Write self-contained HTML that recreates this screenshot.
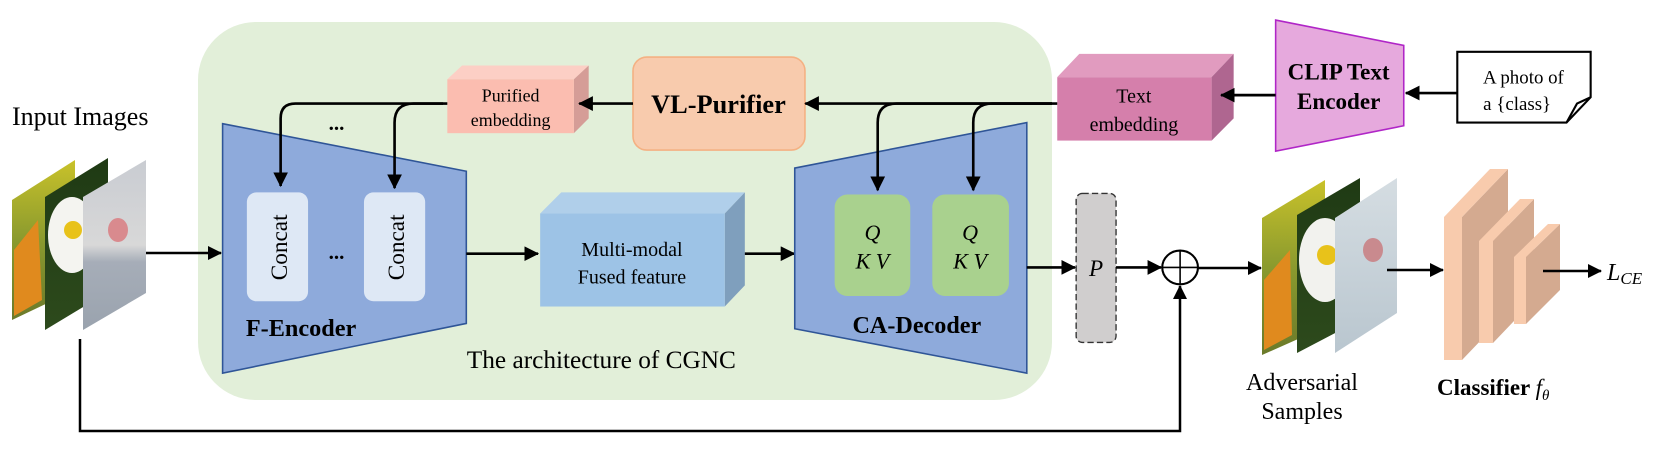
<!DOCTYPE html>
<html><head><meta charset="utf-8"><style>
html,body{margin:0;padding:0;background:#fff;width:1661px;height:453px;overflow:hidden}
svg{display:block}
text{font-family:"Liberation Serif",serif;fill:#000}
</style></head><body>
<svg width="1661" height="453" viewBox="0 0 1661 453" xmlns="http://www.w3.org/2000/svg">
<defs>
<marker id="ab" markerWidth="14" markerHeight="14" refX="13" refY="7" orient="auto" markerUnits="userSpaceOnUse">
<path d="M0,0 L14,7 L0,14 z" fill="#000"/></marker>
<linearGradient id="g1" x1="0" y1="0" x2="0" y2="1"><stop offset="0" stop-color="#c9c22a"/><stop offset="0.5" stop-color="#8a9a2e"/><stop offset="1" stop-color="#6b7a2a"/></linearGradient>
<linearGradient id="g2" x1="0" y1="0" x2="0" y2="1"><stop offset="0" stop-color="#1f3a14"/><stop offset="1" stop-color="#2d4a1c"/></linearGradient>
<linearGradient id="g3" x1="0" y1="0" x2="0" y2="1"><stop offset="0" stop-color="#c9ccd2"/><stop offset="0.5" stop-color="#d8d8d8"/><stop offset="0.6" stop-color="#a6adb8"/><stop offset="1" stop-color="#9aa3ae"/></linearGradient>
<linearGradient id="g4" x1="0" y1="0" x2="0" y2="1"><stop offset="0" stop-color="#d5dde2"/><stop offset="1" stop-color="#b9c6cf"/></linearGradient>
</defs>

<rect x="198" y="22" width="854" height="378" rx="58" fill="#e2efd9"/>

<text x="12" y="125" font-size="26">Input Images</text>
<g>
<polygon points="12,200 75,160 75,290 12,320" fill="url(#g1)"/>
<polygon points="14,250 38,220 42,300 14,316" fill="#e08a1e"/>
<polygon points="45,197 108,158 108,292 45,330" fill="url(#g2)"/>
<ellipse cx="72" cy="235" rx="24" ry="38" fill="#f4f4f0"/>
<circle cx="73" cy="230" r="9" fill="#e8c21a"/>
<polygon points="83,197 146,160 146,293 83,330" fill="url(#g3)"/>
<ellipse cx="118" cy="230" rx="10" ry="12" fill="#d98a8e"/>
</g>
<line x1="146" y1="253" x2="221" y2="253" stroke="#000" stroke-width="2.5" marker-end="url(#ab)"/>
<path d="M80,339 L80,431 L1180,431 L1180,286" fill="none" stroke="#000" stroke-width="2.5" marker-end="url(#ab)"/>

<!-- LEFT GROUP -->
<g transform="scale(1.055,1.057)">
<polygon points="211,117 442,162 442,306 211,353" fill="#8eaadb" stroke="#2f5597" stroke-width="1.5"/>
<rect x="234" y="182" width="58" height="103" rx="9" fill="#dee8f5"/>
<rect x="345" y="182" width="58" height="103" rx="9" fill="#dee8f5"/>
<text transform="translate(272,234) rotate(-90)" font-size="22" text-anchor="middle">Concat</text>
<text transform="translate(383,234) rotate(-90)" font-size="22" text-anchor="middle">Concat</text>
<text x="319" y="245" font-size="20" text-anchor="middle" font-weight="bold">...</text>
<text x="319" y="123" font-size="20" text-anchor="middle" font-weight="bold">...</text>
<text x="233" y="318" font-size="23" font-weight="bold">F-Encoder</text>

<polygon points="424,75 438,62 558,62 544,75" fill="#fccfc5"/>
<polygon points="544,75 558,62 558,112 544,126" fill="#d59d97"/>
<rect x="424" y="75" width="120" height="51" fill="#fbbdb0"/>
<text x="484" y="96" font-size="17" text-anchor="middle">Purified</text>
<text x="484" y="119" font-size="17" text-anchor="middle">embedding</text>

<rect x="600" y="54" width="163" height="88" rx="13" fill="#f8cbad" stroke="#f4b183" stroke-width="1.5"/>
<text x="681" y="107" font-size="25" font-weight="bold" text-anchor="middle">VL-Purifier</text>
<line x1="600" y1="98" x2="549" y2="98" stroke="#000" stroke-width="2.5" marker-end="url(#ab)"/>

<path d="M424,98 L280,98 Q266,98 266,112 L266,176" fill="none" stroke="#000" stroke-width="2.5" marker-end="url(#ab)"/>
<path d="M420,98 L392,98 Q374,98 374,116 L374,178" fill="none" stroke="#000" stroke-width="2.5" marker-end="url(#ab)"/>

<polygon points="512,202 532,182 706,182 687,202" fill="#b0cfea"/>
<polygon points="687,202 706,182 706,270 687,290" fill="#7f9fbd"/>
<rect x="512" y="202" width="175" height="88" fill="#9dc3e6"/>
<text x="599" y="242" font-size="19" text-anchor="middle">Multi-modal</text>
<text x="599" y="268" font-size="19" text-anchor="middle">Fused feature</text>
<line x1="442" y1="240" x2="510" y2="240" stroke="#000" stroke-width="2.5" marker-end="url(#ab)"/>
<line x1="706" y1="240" x2="753" y2="240" stroke="#000" stroke-width="2.5" marker-end="url(#ab)"/>

<text x="570" y="348" font-size="24" text-anchor="middle">The architecture of CGNC</text>
</g>

<!-- RIGHT GROUP -->
<g transform="translate(800,0) scale(1.05,1.057) translate(-800,0)">
<polygon points="795,159 1016,116 1016,353 795,311" fill="#8eaadb" stroke="#2f5597" stroke-width="1.5"/>
<rect x="833" y="184" width="72" height="96" rx="12" fill="#a9d18e"/>
<rect x="926" y="184" width="73" height="96" rx="12" fill="#a9d18e"/>
<text x="869" y="227" font-size="21" font-style="italic" text-anchor="middle">Q</text>
<text x="869" y="254" font-size="21" font-style="italic" text-anchor="middle">K V</text>
<text x="962" y="227" font-size="21" font-style="italic" text-anchor="middle">Q</text>
<text x="962" y="254" font-size="21" font-style="italic" text-anchor="middle">K V</text>
<text x="850" y="315" font-size="23" font-weight="bold">CA-Decoder</text>

<polygon points="1045,73 1066,51 1213,51 1192,73" fill="#e19bbf"/>
<polygon points="1192,73 1213,51 1213,112 1192,133" fill="#af6690"/>
<rect x="1045" y="73" width="147" height="60" fill="#d57fab"/>
<text x="1118" y="97" font-size="19" text-anchor="middle">Text</text>
<text x="1118" y="124" font-size="19" text-anchor="middle">embedding</text>

<line x1="1045" y1="98" x2="805" y2="98" stroke="#000" stroke-width="2.5" marker-end="url(#ab)"/>
<path d="M1040,98 L892,98 Q874,98 874,116 L874,180" fill="none" stroke="#000" stroke-width="2.5" marker-end="url(#ab)"/>
<path d="M1040,98 L983,98 Q965,98 965,116 L965,180" fill="none" stroke="#000" stroke-width="2.5" marker-end="url(#ab)"/>

<polygon points="1253,19 1375,43 1375,119 1253,143" fill="#e6a9dd" stroke="#b026c7" stroke-width="1.5"/>
<text x="1313" y="75" font-size="22" font-weight="bold" text-anchor="middle">CLIP Text</text>
<text x="1313" y="103" font-size="22" font-weight="bold" text-anchor="middle">Encoder</text>
<line x1="1253" y1="90" x2="1201" y2="90" stroke="#000" stroke-width="2.5" marker-end="url(#ab)"/>

<path d="M1426,49 L1553,49 L1553,92 L1530,116 L1426,116 Z" fill="#fff" stroke="#000" stroke-width="2"/>
<path d="M1553,92 L1540,98 L1530,116" fill="none" stroke="#000" stroke-width="2"/>
<text x="1489" y="79" font-size="18" text-anchor="middle">A photo of</text>
<text x="1483" y="104" font-size="18" text-anchor="middle">a {class}</text>
<line x1="1426" y1="88" x2="1377" y2="88" stroke="#000" stroke-width="2.5" marker-end="url(#ab)"/>

<line x1="1016" y1="253" x2="1062" y2="253" stroke="#000" stroke-width="2.5" marker-end="url(#ab)"/>
<rect x="1063" y="183" width="38" height="141" rx="6" fill="#d0cece" stroke="#333" stroke-width="1.3" stroke-dasharray="6,3"/>
<text x="1082" y="261" font-size="22" font-style="italic" text-anchor="middle">P</text>
<line x1="1101" y1="253" x2="1144" y2="253" stroke="#000" stroke-width="2.5" marker-end="url(#ab)"/>
<ellipse cx="1162" cy="253" rx="17" ry="16" fill="#fff" stroke="#000" stroke-width="2"/>
<line x1="1145" y1="253" x2="1179" y2="253" stroke="#000" stroke-width="1.5"/>
<line x1="1162" y1="237" x2="1162" y2="269" stroke="#000" stroke-width="1.5"/>
</g>

<!-- actual coords: circle -> adversarial -->
<line x1="1198" y1="268" x2="1261" y2="268" stroke="#000" stroke-width="2.5" marker-end="url(#ab)"/>

<!-- adversarial images -->
<g>
<polygon points="1262,218 1325,180 1325,327 1262,355" fill="url(#g1)"/>
<polygon points="1264,280 1290,250 1292,335 1264,350" fill="#e08a1e"/>
<polygon points="1297,215 1360,178 1360,320 1297,353" fill="url(#g2)"/>
<ellipse cx="1325" cy="260" rx="26" ry="42" fill="#f2f2ee"/>
<circle cx="1327" cy="255" r="10" fill="#e8c21a"/>
<polygon points="1335,218 1397,178 1397,313 1335,353" fill="url(#g4)"/>
<ellipse cx="1373" cy="250" rx="10" ry="12" fill="#c98a8e"/>
</g>
<text x="1302" y="390" font-size="24" text-anchor="middle">Adversarial</text>
<text x="1302" y="419" font-size="24" text-anchor="middle">Samples</text>

<!-- classifier -->
<line x1="1387" y1="270" x2="1443" y2="270" stroke="#000" stroke-width="2.5" marker-end="url(#ab)"/>
<polygon points="1462,217 1508,169 1508,312 1462,360" fill="#d4aa90"/>
<polygon points="1444,217 1462,217 1508,169 1490,169" fill="#f8cbad"/>
<rect x="1444" y="217" width="18" height="143" fill="#f8cbad"/>
<polygon points="1493,241 1534,199 1534,300 1493,343" fill="#d4aa90"/>
<polygon points="1479,241 1493,241 1534,199 1520,199" fill="#f8cbad"/>
<rect x="1479" y="241" width="14" height="102" fill="#f8cbad"/>
<polygon points="1526,257 1560,224 1560,290 1526,324" fill="#d4aa90"/>
<polygon points="1514,257 1526,257 1560,224 1548,224" fill="#f8cbad"/>
<rect x="1514" y="257" width="12" height="67" fill="#f8cbad"/>
<line x1="1543" y1="271" x2="1601" y2="271" stroke="#000" stroke-width="2.5" marker-end="url(#ab)"/>
<text x="1607" y="280" font-size="24" font-style="italic">L<tspan font-size="17" dy="4">CE</tspan></text>
<text x="1437" y="395" font-size="23" font-weight="bold">Classifier <tspan font-weight="normal" font-style="italic">f</tspan><tspan font-weight="normal" font-style="italic" font-size="15" dy="5">θ</tspan></text>
</svg>
</body></html>
